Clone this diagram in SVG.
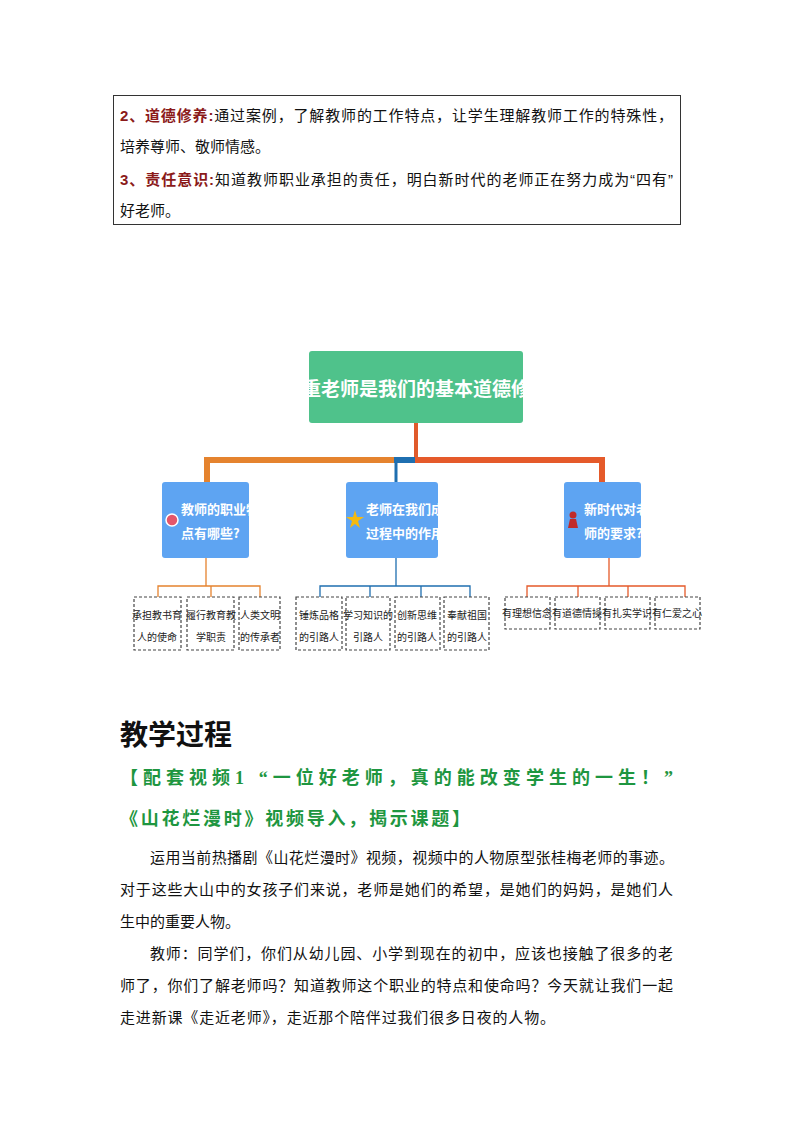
<svg xmlns="http://www.w3.org/2000/svg" width="794" height="1123" viewBox="0 0 794 1123">
<style>
.t{font-family:"Liberation Sans","Noto Sans CJK SC",sans-serif;font-size:15px;fill:#111}
.r{fill:#8b1a1a;font-weight:bold}
.g{font-family:"Liberation Serif","Noto Sans CJK SC",serif;font-size:18px;font-weight:bold;fill:#1e9640}
.mid{font-family:"Noto Sans CJK SC",sans-serif;font-size:13px;fill:#fff;font-weight:bold}
.leaf{fill:#fff;stroke:#444;stroke-width:1.2;stroke-dasharray:3 2}
.lt{font-family:"Noto Sans CJK SC",sans-serif;font-size:10px;fill:#222;text-anchor:middle}
.mb{fill:#5ea4f2}
</style>
<rect width="794" height="1123" fill="#fff"/>
<g id="objectives">
<rect x="113.5" y="95.5" width="567" height="129" fill="none" stroke="#333"/>
<text class="t" x="120" y="121" textLength="553"><tspan class="r">2、道德修养:</tspan>通过案例，了解教师的工作特点，让学生理解教师工作的特殊性，</text>
<text class="t" x="120" y="152">培养尊师、敬师情感。</text>
<text class="t" x="120" y="185" textLength="553"><tspan class="r">3、责任意识:</tspan>知道教师职业承担的责任，明白新时代的老师正在努力成为“四有”</text>
<text class="t" x="120" y="216">好老师。</text>
</g>
<g id="connectors" fill="none">
<path d="M416 423V460" stroke="#e05a2b" stroke-width="4"/>
<path d="M207 490V460H394" stroke="#e5832e" stroke-width="6"/>
<path d="M394 460H415" stroke="#1f6fb0" stroke-width="6"/>
<path d="M396 460V482" stroke="#1f6fb0" stroke-width="3"/>
<path d="M415 460H602V482" stroke="#e55a2a" stroke-width="6"/>
<path d="M206 558V586M158 597V586H260V597M211 586V597" stroke="#e5832e" stroke-width="1.3"/>
<path d="M396 558V586M320 597V586H470V597M370 586V597M421 586V597" stroke="#1f6fb0" stroke-width="1.3"/>
<path d="M609 558V586M527 597V586H685V597M578 586V597M628 586V597" stroke="#e55a2a" stroke-width="1.3"/>
</g>
<g id="root">
<rect x="309" y="351" width="214" height="72" rx="3" fill="#4fc28b"/>
<text x="416" y="396" text-anchor="middle" font-family="Noto Sans CJK SC,sans-serif" font-size="19" font-weight="bold" fill="#fff">尊重老师是我们的基本道德修养</text>
</g>
<g id="n1">
<rect class="mb" x="162" y="482" width="87" height="76" rx="3"/>
<circle cx="172" cy="520" r="6" fill="#e5566a" stroke="#fff" stroke-width="1.5"/>
<text class="mid" x="181" y="514">教师的职业特</text>
<text class="mid" x="181" y="538">点有哪些?</text>
</g>
<g id="n2">
<rect class="mb" x="346" y="482" width="92" height="76" rx="3"/>
<polygon points="355,510 357,517 364,517 358,521 360,528 355,524 350,528 352,521 346,517 353,517" fill="#f5b90f"/>
<text class="mid" x="366" y="514">老师在我们成长</text>
<text class="mid" x="366" y="538">过程中的作用</text>
</g>
<g id="n3">
<rect class="mb" x="564" y="482" width="77" height="76" rx="3"/>
<circle cx="573" cy="515" r="3.5" fill="#c02a2a"/><path d="M568 528L570 519H576L578 528Z" fill="#c02a2a"/>
<text class="mid" x="584" y="514">新时代对老</text>
<text class="mid" x="584" y="538">师的要求?</text>
</g>
<g id="leaves">
<rect class="leaf" x="134" y="597" width="47" height="53"/><text class="lt" x="157" y="619">承担教书育</text><text class="lt" x="157" y="641">人的使命</text>
<rect class="leaf" x="187" y="597" width="47" height="53"/><text class="lt" x="211" y="619">履行教育教</text><text class="lt" x="211" y="641">学职责</text>
<rect class="leaf" x="239" y="597" width="41" height="53"/><text class="lt" x="260" y="619">人类文明</text><text class="lt" x="260" y="641">的传承者</text>
<rect class="leaf" x="296" y="597" width="46" height="53"/><text class="lt" x="319" y="619">锤炼品格</text><text class="lt" x="319" y="641">的引路人</text>
<rect class="leaf" x="346" y="597" width="44" height="53"/><text class="lt" x="368" y="619">学习知识的</text><text class="lt" x="368" y="641">引路人</text>
<rect class="leaf" x="395" y="597" width="45" height="53"/><text class="lt" x="417" y="619">创新思维</text><text class="lt" x="417" y="641">的引路人</text>
<rect class="leaf" x="444" y="597" width="45" height="53"/><text class="lt" x="467" y="619">奉献祖国</text><text class="lt" x="467" y="641">的引路人</text>
<rect class="leaf" x="505" y="597" width="45" height="32"/><text class="lt" x="527" y="617">有理想信念</text>
<rect class="leaf" x="555" y="597" width="45" height="32"/><text class="lt" x="577" y="617">有道德情操</text>
<rect class="leaf" x="605" y="597" width="45" height="32"/><text class="lt" x="627" y="617">有扎实学识</text>
<rect class="leaf" x="655" y="597" width="45" height="32"/><text class="lt" x="677" y="617">有仁爱之心</text>
</g>
<g id="process">
<text x="120" y="745" font-family="Noto Sans CJK SC,sans-serif" font-size="28" font-weight="bold" fill="#111">教学过程</text>
<text class="g" x="120" y="784" textLength="553">【配套视频1 “一位好老师，真的能改变学生的一生！”</text>
<text class="g" x="120" y="825" textLength="350">《山花烂漫时》视频导入，揭示课题】</text>
<text class="t" x="150" y="863" font-size="16" textLength="524">运用当前热播剧《山花烂漫时》视频，视频中的人物原型张桂梅老师的事迹。</text>
<text class="t" x="120" y="895" font-size="16" textLength="553">对于这些大山中的女孩子们来说，老师是她们的希望，是她们的妈妈，是她们人</text>
<text class="t" x="120" y="927" font-size="16">生中的重要人物。</text>
<text class="t" x="150" y="959" font-size="16" textLength="523">教师：同学们，你们从幼儿园、小学到现在的初中，应该也接触了很多的老</text>
<text class="t" x="120" y="991" font-size="16" textLength="553">师了，你们了解老师吗？知道教师这个职业的特点和使命吗？今天就让我们一起</text>
<text class="t" x="120" y="1023" font-size="16" textLength="435">走进新课《走近老师》，走近那个陪伴过我们很多日夜的人物。</text>
</g>
</svg>
